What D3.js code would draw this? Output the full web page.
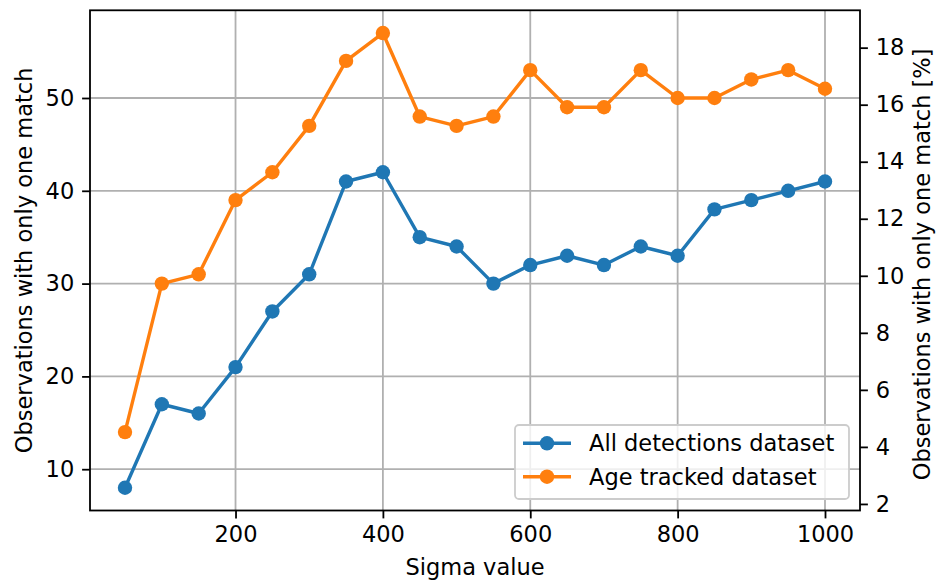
<!DOCTYPE html>
<html>
<head>
<meta charset="utf-8">
<script src="https://cdn.jsdelivr.net/npm/d3@7"></script>
<style>
  body { margin: 0; background: #fff; }
  text { font-family: "DejaVu Sans", sans-serif; fill: #000; }
</style>
</head>
<body>
<script>
// sigma values on the x axis
const sigmas = [50, 100, 150, 200, 250, 300, 350, 400, 450, 500, 550, 600, 650, 700, 750, 800, 850, 900, 950, 1000];
const allDetections = [8, 17, 16, 21, 27, 31, 41, 42, 35, 34, 30, 32, 33, 32, 34, 33, 38, 39, 40, 41];
const ageTracked = [14, 30, 31, 39, 42, 47, 54, 57, 48, 47, 48, 53, 49, 49, 53, 50, 50, 52, 53, 51];
const seriesNames = ["All detections dataset", "Age tracked dataset"];
const xTicks = [200, 400, 600, 800, 1000];
const leftTicks = [10, 20, 30, 40, 50];
const rightTicks = [2, 4, 6, 8, 10, 12, 14, 16, 18];

document.addEventListener('DOMContentLoaded', () => {
  const width = 939, height = 580;
  const left = 90, right = 860, top = 10.3, bottom = 510.5;
  const fs = 22.5;
  const tickLen = 7.9;

  const svg = d3.select('body').append('svg')
    .attr('width', width).attr('height', height);

  const x = d3.scaleLinear().domain([2.5, 1047.5]).range([left, right]);
  const y = d3.scaleLinear().domain([5.55, 59.45]).range([bottom, top]);
  const y2 = d3.scaleLinear().domain([1.77, 19.31]).range([bottom, top]);

  // grid
  svg.append('g').selectAll('line.gx')
    .data(xTicks).enter().append('line')
    .attr('x1', d => x(d)).attr('x2', d => x(d))
    .attr('y1', top).attr('y2', bottom)
    .attr('stroke', '#b0b0b0').attr('stroke-width', 1.8);
  svg.append('g').selectAll('line.gy')
    .data(leftTicks).enter().append('line')
    .attr('x1', left).attr('x2', right)
    .attr('y1', d => y(d)).attr('y2', d => y(d))
    .attr('stroke', '#b0b0b0').attr('stroke-width', 1.8);

  // axes
  const xAxis = d3.axisBottom(x).tickValues(xTicks).tickFormat(d3.format('d')).tickSize(tickLen).tickPadding(7.5);
  const yAxis = d3.axisLeft(y).tickValues(leftTicks).tickFormat(d3.format('d')).tickSize(tickLen).tickPadding(7.9);
  const y2Axis = d3.axisRight(y2).tickValues(rightTicks).tickFormat(d3.format('d')).tickSize(tickLen).tickPadding(7.9);

  function style(g) {
    g.select('.domain').remove();
    g.selectAll('line').attr('stroke', '#000').attr('stroke-width', 1.8);
    g.selectAll('text').attr('font-size', fs).attr('font-family', '"DejaVu Sans", sans-serif').attr('fill', '#000');
  }

  svg.append('g').attr('transform', `translate(0,${bottom})`).call(xAxis).call(style);
  svg.append('g').attr('transform', `translate(${left},0)`).call(yAxis).call(style);
  svg.append('g').attr('transform', `translate(${right},0)`).call(y2Axis).call(style);

  // frame
  svg.append('rect')
    .attr('x', left).attr('y', top)
    .attr('width', right - left).attr('height', bottom - top)
    .attr('fill', 'none').attr('stroke', '#000').attr('stroke-width', 1.8);

  // series
  const colors = ['#1f77b4', '#ff7f0e'];
  const data = [allDetections, ageTracked];
  const line = d3.line().x(d => x(d[0])).y(d => y(d[1]));

  data.forEach((vals, k) => {
    const pts = sigmas.map((s, i) => [s, vals[i]]);
    svg.append('path')
      .datum(pts)
      .attr('d', line)
      .attr('fill', 'none')
      .attr('stroke', colors[k])
      .attr('stroke-width', 3.4)
      .attr('stroke-linejoin', 'round');
    svg.append('g').selectAll('circle')
      .data(pts).enter().append('circle')
      .attr('cx', d => x(d[0])).attr('cy', d => y(d[1]))
      .attr('r', 7.2)
      .attr('fill', colors[k]);
  });

  // labels
  svg.append('text')
    .attr('x', (left + right) / 2).attr('y', 575)
    .attr('text-anchor', 'middle').attr('font-size', fs)
    .text('Sigma value');
  svg.append('text')
    .attr('transform', `translate(24,${(top + bottom) / 2}) rotate(-90)`)
    .attr('text-anchor', 'middle').attr('dy', '0.35em').attr('font-size', fs)
    .text('Observations with only one match');
  svg.append('text')
    .attr('transform', `translate(922,${(top + bottom) / 2 + 4}) rotate(-90)`)
    .attr('text-anchor', 'middle').attr('dy', '0.35em').attr('font-size', fs)
    .text('Observations with only one match [%]');

  // legend
  const lg = svg.append('g');
  lg.append('rect')
    .attr('x', 515).attr('y', 425)
    .attr('width', 334).attr('height', 74)
    .attr('rx', 4).attr('ry', 4)
    .attr('fill', 'rgba(255,255,255,0.8)')
    .attr('stroke', '#cccccc').attr('stroke-width', 1.8);
  const rows = [443.3, 476.7];
  seriesNames.forEach((name, k) => {
    lg.append('line')
      .attr('x1', 523).attr('x2', 571)
      .attr('y1', rows[k]).attr('y2', rows[k])
      .attr('stroke', colors[k]).attr('stroke-width', 3.4);
    lg.append('circle')
      .attr('cx', 547).attr('cy', rows[k]).attr('r', 7.2)
      .attr('fill', colors[k]);
    lg.append('text')
      .attr('x', 589).attr('y', rows[k]).attr('dy', '0.36em')
      .attr('font-size', fs)
      .text(name);
  });
});
</script>
</body>
</html>
